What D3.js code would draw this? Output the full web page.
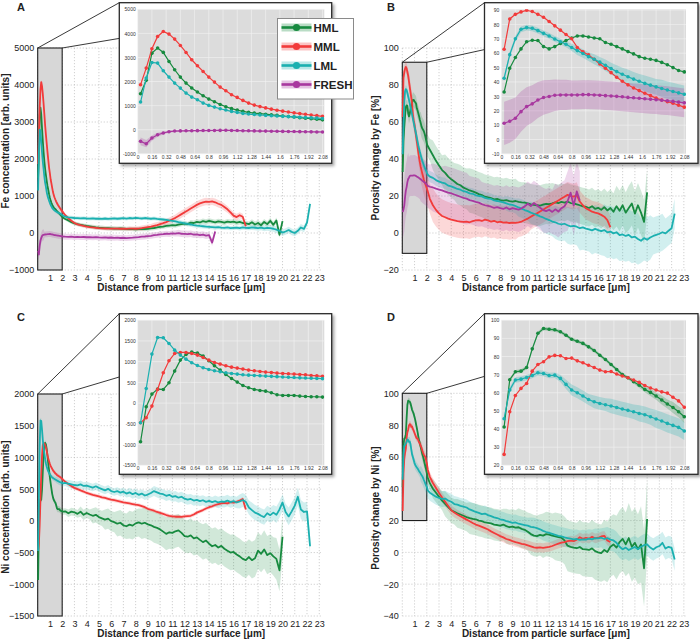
<!DOCTYPE html>
<html><head><meta charset="utf-8">
<script src="https://cdn.jsdelivr.net/npm/d3@7"></script>
<style>body{margin:0;background:#fff}svg{display:block}text{font-family:'Liberation Sans',Arial,Helvetica,sans-serif}</style>
</head><body><svg id="c" width="700" height="641"></svg>
<script>
// ---------------- DATA ----------------
const seriesNames = ["HML","MML","LML","FRESH"];
const xTicksMain = [1,2,3,4,5,6,7,8,9,10,11,12,13,14,15,16,17,18,19,20,21,22,23];
const xTicksInset = [0,0.16,0.32,0.48,0.64,0.8,0.96,1.12,1.28,1.44,1.6,1.76,1.92,2.08];
const feTicks = [-1000,0,1000,2000,3000,4000,5000];
const pFeTicks = [-20,0,20,40,60,80,100];
const niTicks = [-1500,-1000,-500,0,500,1000,1500,2000];
const pNiTicks = [-40,-20,0,20,40,60,80,100];
const feInTicks = [-1000,0,1000,2000,3000,4000,5000];
const pFeInTicks = [-10,0,10,20,30,40,50,60,70,80,90];
const niInTicks = [-1500,-1000,-500,0,500,1000,1500,2000];
const pNiInTicks = [20,30,40,50,60,70,80,90,100];

// distances (µm) of the zoomed samples and of the coarser far-field samples
const insetX = [0.032,0.096,0.16,0.224,0.288,0.352,0.416,0.48,0.544,0.608,0.672,0.736,0.8,0.864,0.928,0.992,1.056,1.12,1.184,1.248,1.312,1.376,1.44,1.504,1.568,1.632,1.696,1.76,1.824,1.888,1.952,2.016,2.08];
const tailX = [2.25,2.5,2.75,3,3.25,3.5,3.75,4,4.25,4.5,4.75,5,5.25,5.5,5.75,6,6.25,6.5,6.75,7,7.25,7.5,7.75,8,8.25,8.5,8.75,9,9.25,9.5,9.75,10,10.25,10.5,10.75,11,11.25,11.5,11.75,12,12.25,12.5,12.75,13,13.25,13.5,13.75,14,14.25,14.5,14.75,15,15.25,15.5,15.75,16,16.25,16.5,16.75,17,17.25,17.5,17.75,18,18.25,18.5,18.75,19,19.25,19.5,19.75,20,20.25,20.5,20.75,21,21.25,21.5,21.75,22,22.25];

// Panel A: Fe concentration
const feHML_in = [1494,2050,3180,3390,3210,2835,2490,2185,1936,1730,1563,1411,1272,1162,1050,955,875,815,765,722,688,665,645,620,595,570,548,525,500,478,455,432,410];
const feMML_in = [1867,2559,3361,3873,4080,3970,3762,3500,3209,2905,2656,2420,2185,1978,1770,1618,1452,1341,1217,1106,1023,960,905,855,810,770,735,700,670,640,610,585,555];
const feLML_in = [1148,2143,2794,2766,2448,2185,1936,1729,1521,1355,1245,1106,1010,940,871,816,761,719,678,650,630,612,595,580,567,555,543,532,520,508,495,482,468];
const feFRESH_in = [-484,-581,-346,-207,-138,-83,-55,-50,-45,-40,-38,-35,-33,-30,-28,-25,-30,-35,-40,-45,-50,-55,-58,-62,-66,-70,-73,-77,-80,-84,-88,-92,-95];
const feHML_tail = [380,340,295,262, 240,222,205,190, 178,165,152,145, 140,132,130,126, 120,118,122,115, 108,112,105,100, 104,110,108,115, 125,135,150,168, 175,190,200,210, 205,225,240,255, 240,280,270,300, 285,320,300,330, 310,290,315,300, 280,310,295,305, 280,300,270,260, 240,290,230,270, 210,300,240,330, 220,340,-50,320];
const feMML_tail = [480,400,330,270, 235,210,190,175, 160,150,140,130, 125,122,120,118, 116,118,115,117, 114,116,118,115, 120,130,145,160, 175,195,215,240, 265,295,330,370, 410,460,510,560, 610,660,710,760, 800,830,850,840, 855,830,790,760, 700,640,560,470, 430,480,440,180];
const feLML_tail = [440,425,415,405, 400,395,400,392, 388,395,385,390, 384,392,380,388, 395,385,392,400, 390,405,395,410, 400,392,405,395, 385,395,380,372, 365,355,340,330, 315,295,280,262, 245,230,212,200, 190,182,175,168, 160,150,158,145, 140,150,132,138, 145,130,150,140, 135,150,142,130, 145,125,140,130, 115,90,60,10, 40,80,30,0, 60,150,110,280, 790];
const feFRESH_tail = [-100,-105,-98,-110, -104,-112,-108,-115, -110,-118,-112,-120, -125,-118,-128,-122, -130,-125,-135,-128, -138,-130,-125,-118, -110,-100,-95,-85, -75,-60,-50,-38, -30,-20,-25,-10, -15,-5,-20,-25, -30,-20,-45,-40, -55,-45,-70,-60, -260,40];
const feHML_hw = [40,40,40,50,50,60,60,60,60,60,60,60,60,70,70,70,70,70,80,80,80];
const feMML_hw = [60,50,50,50,50,50,50,50,60,70,80,90,100,100,100,100,90,80];
const feLML_hw = [60,50,50,50,50,50,50,50,50,50,50,50,60,60,60,60,60,60,70,80,90,90,90,90];
const feFRESH_hw = [150,80,80,80,80,80,80,80,80,80,80,80,90,90,90];
const feFRESH_inHW = [160,150,110,80,60,45,35,30,30,30,30,30,30,30,30,30,30,30,30,30,30,30,30,30,30,30,30,30,30,30,30,30,30];

// Panel B: porosity change by Fe
const pFeHML_in = [33,49.5,57,63,68,69,68.8,64.6,63,64.6,66.7,68.8,70.6,72,72,71.3,70.6,70,67.4,66.2,64.6,63,61.1,59.5,57.6,56.5,55.8,55,53.6,52,50,48,47];
const pFeMML_in = [62.7,83.8,87,88.7,89.8,89,87,85,82,79,76,73,70,64,61,58.8,55.8,52.5,49.5,46.5,43.3,40.5,38,35.8,34,32.2,30.5,28.8,27.5,26.3,25.2,23.8,22.5];
const pFeLML_in = [42.6,59,70,76.6,77.8,77.3,75.7,73.8,72,69.9,68,66.2,64,61.8,59.8,57.6,55.8,53.8,51.6,49.4,47.2,45.4,43.6,42,40.5,39,37.8,36.6,35.5,34.4,33.4,32.4,31.5];
const pFeFRESH_in = [11.3,12.7,14.8,19.4,22.9,24.8,27.5,29.2,29.9,30.8,31,31,31,31,31.2,31.2,31,30.8,30.5,30.3,30,29.7,29.3,29,28.7,28.3,28,27.7,27.3,27,26.5,26,25.5];
const pFeHML_tail = [45,42,39,36.5, 34,32.5,30.5,29, 27.8,26.5,25.8,24.5, 23.8,23,22.5,21.8, 21,20.5,19.6,19.2, 18.8,18.2,18.4,17.8, 17.5,17.8,17.2,17, 17.3,16.8,16.5,16.4, 16,15.5,15.2,15, 14.8,15.3,15.8,15.6, 16,16.5,16.2,16.8, 16.4,17,16.2,16, 15.5,15,14.4,14.2, 13.5,14.5,13,13.6, 12.5,14,12.2,13.5, 11.5,14.5,12,15, 11,13.5,16,10.5, 15,11,6,22];
const pFeMML_tail = [18.5,15,12.5,10.6, 9.2,8.5,7.8,7.2, 6.8,6.4,6.2,6, 6.2,5.8,6.4,6.8, 7,6.5,7.2,6.8, 6.2,6.6,5.8,6.2, 5.6,5.8,5.4,5.6, 5.5,5.8,6.2,7, 7.8,8.8,9.8,10.6, 11.6,12.6,13.6,14.6, 15.6,16.6,17.6,18.6, 19.6,20.6,20,19.6, 20.5,17,15,13.3, 12.5,11.5,11,10.6, 9.8,8.8,7,3];
const pFeLML_tail = [30.5,29.8,28.6,27.8, 27.2,26.8,25.6,25.2, 24.5,23.8,23.4,22.6, 22.2,21.4,21.2,20.4, 20,19.8,19,18.6, 18.4,17.6,17.3,16.9, 16.5,16,15.4,15.2, 14.6,13.8,13.2,12.4, 11.8,11,10.4,9.8, 9,8.4,7.6,7, 6.2,5.8,5,4.6, 5,4.2,3.6,3.9, 3.4,2.6,3,2.4, 2,1.4,2.2,1.6, 1,1.6,0.4,0.8, -0.2,0.4,-1.2,-0.8, -1.6,-1,-2.4,-2, -3.2,-4.2,-2.8,-3.6, -2.4,-1.6,-1,-0.4, 0.4,-0.2,1.2,2.6, 10.5];
const pFeFRESH_tail = [25,24.6,24,23.5, 23,22.4,21.8,21.4, 20.8,20.2,19.6,19, 18.6,17.8,17.4,16.8, 16.4,15.6,15,14.6, 14.2,13.6,14,13.4, 13,13.8,12.8,13.4, 13,12.6,13.4,14.4, 15.8,14.6,16.2,15, 13.6,12.4,11.8,12.6, 11.4,12.8,11.6,13.4, 14.5,17.2,21.8,14.8, 22.5,17.5];
const pFeHML_hw = [3,4,6,8,10,11,12,12,12,12,11,11,11,10,10,10,10,10,11,12,12];
const pFeMML_hw = [3,5,8,9,9,9,9,9,9,9,8,7,7,7,7,6,6,6];
const pFeLML_hw = [2,3,3,3,3,3,3,3,3,4,5,6,8,9,10,12,13,14,14,14,12,10,8,8];
const pFeFRESH_hw = [14,11,12,13,14,14,13,12,12,12,12,12,12,14,16,16];
const pFeFRESH_inHW = [15,15,14.5,14,13.5,13,12.5,12,11.5,11,10.5,10.5,10,10,10,10,10,10,10,10,10,10,10,10,10,10,10,10,10,10,10,10,10];
const pFeLML_inHW = [2,2,2,2,2,2,2,2,2,2,2,2,2.5,3,3,3,3.5,3.5,4,4,4.5,4.5,5,5,5,5.5,5.5,5.5,6,6,6,6,6];

// Panel C: Ni concentration
const niHML_in = [-933,-88,217,338,330,490,772,1037,1174,1230,1206,1134,1021,900,796,691,595,507,426,370,330,306,289,249,201,185,185,185,169,161,153,153,145];
const niMML_in = [-474,-354,-72,330,732,1021,1198,1222,1222,1198,1158,1101,1037,981,941,900,868,844,820,796,780,764,748,740,724,716,708,700,691,683,667,659,645];
const niLML_in = [-474,354,1182,1584,1576,1439,1278,1158,1061,973,908,852,812,780,756,732,716,700,683,675,667,660,652,645,638,630,623,617,610,605,600,595,590];
const niHML_tail = [150,120,145,135, 110,145,95,125, 100,80,95,60, 40,20,35,-5, -20,-45,-30,-70, -85,-60,-75,-40, -25,-45,-30,-55, -70,-95,-110,-135, -170,-205,-180,-190, -165,-150,-190,-240, -250,-230,-275,-260, -300,-335,-310,-360, -400,-380,-420,-395, -440,-470,-500,-490, -530,-560,-600,-620, -570,-620,-590,-470, -520,-450,-540,-510, -560,-600,-780,-250];
const niMML_tail = [615,580,548,520, 500,480,462,440, 425,410,398,385, 372,362,348,335, 325,315,305,292, 285,276,265,255, 248,232,215,190, 175,160,140,125, 110,92,80,72, 65,68,62,70, 75,80,100,130, 150,170,195,215, 230,250,262,275, 285,275,295,288, 300,320,345,180];
const niLML_tail = [600,585,575,565, 560,575,550,555, 540,525,545,520, 500,480,505,470, 455,470,445,460, 430,450,420,440, 410,430,400,415, 440,470,450,430, 420,395,410,380, 390,365,380,350, 335,345,320,330, 310,325,300,315, 295,310,290,305, 300,320,295,310, 290,305,330,300, 210,170,130,110, 80,60,120,90, 130,95,180,290, 140,70,150,240, 380,180,140,150, -400];
const niHML_hw = [40,40,50,60,80,120,160,200,220,240,250,260,260,270,280,280,280,280,290,300,330];
const niMML_hw = [30,30,30,30,30,30,30,30,30,30,30,30,30,30,30,30,30,30];
const niLML_hw = [40,40,50,60,60,60,60,60,70,70,80,80,80,80,80,90,90,110,120,120,130,140,150,150];

// Panel D: porosity change by Ni
const pNiHML_in = [41.1,67.2,71.6,71.9,73.9,84.2,92.8,95.4,95,94.7,93.6,91.7,89.5,88.4,87.2,85.3,83.3,80.7,78.3,75.6,72.8,70.1,68.3,66.1,64.2,61.8,60.2,58.2,56,53.8,51.9,49.5,46.8];
const pNiMML_in = [26,49.5,58.5,62.4,65.1,71.9,75.6,77.1,79.8,80.6,80.4,78.9,79.1,77.6,76.5,75.2,73.9,72.5,71.6,71.7,70.3,69.2,68.3,67,65.7,64,62.6,61.5,60.5,59.8,57.5,55.5,52];
const pNiLML_in = [45.7,61.5,67,67.5,68.4,69.5,71,70.6,69.5,69.7,67.9,64.6,61.5,60,58.2,56.3,55,54.1,53.4,52.7,51.9,51,50.3,49.5,48.6,47.9,46.8,45.5,44.4,43.1,42,40.9,38.9];
const pNiHML_tail = [43.5,40,37.5,35, 32.5,30.5,28.5,26.5, 25.5,24.5,23.8,23, 22.2,21.5,21,20.8, 20,19.6,18.8,18.5, 18.2,17.5,17.2,16.8, 17.5,16.5,15.8,16.2, 15.5,15.8,14.8,14.2, 13,11.5,10.5,10.2, 11,10.5,11.5,11.2, 10.5,10,9.6,9.2, 7.5,4.2,3.5,3, 2.6,3.4,2,1.9, 1.5,2.5,0.8,0, -0.5,1.5,0.2,3.5, 5,3,6.5,8.5, 5,9,3.5,6, 2,5,-10,21];
const pNiMML_tail = [47.5,43.6,40.5,37.4, 34.5,31.8,29.2,26.5, 25,23.8,22.7,21.7, 20.6,19.6,18.5,17.5, 16.8,16,15.2,14.4, 13.2,12.2,11.2,10.2, 9.4,8.4,7.8,7.1, 6.5,6,5.4,5, 4.4,3.8,3.2,2.9, 3.1,2.8,3.2,3.4, 4,4.8,5.5,6.1, 6.5,7,7.4,7.1, 8,9.5,8.5,9.2, 8.6,9.8,8.8,9.2, 10,10.4,7.5,6.5];
const pNiLML_tail = [37.5,36.2,35,34.2, 33.6,33.8,32.6,31.8, 30.4,30,29.2,28.8, 28.2,27,26.2,25.4, 24.8,24,24.4,23.4, 22.8,22,21.6,20.8, 20.4,19.6,19.2,18.6, 18.8,18,17.6,17.2, 16.8,16,15.8,15.2, 14.5,13.5,12.8,12.2, 11.6,11,10.4,10, 9.4,9,8.6,8.2, 8.4,7.8,8.2,8, 8.6,8.2,9,8.8, 9.2,8.4,9,8, 7.5,6,3.5,2, 3,1.5,2.5,3.4, 2,3.5,4.5,5, 3,1.8,3.2,4, 6,2.4,3.5,2.8, -4.5];
const pNiHML_hw = [2,2,4,6,8,9,10,10,10,11,12,13,14,15,16,17,18,19,20,22,24];
const pNiMML_hw = [2,2,3,3,3,3,3,3,3,3,3,3,3,3,3,3,3,3];
const pNiLML_hw = [2,3,5,5,5,5,5,5,5,5,5,6,6,6,6,6,6,7,7,7,7,7,7,7];
const pNiLML_inHW = [1.5,1.5,1.5,1.5,1.5,1.5,1.5,1.5,1.5,1.5,2,2.5,3,3,3,3,3.5,3.5,3.5,4,4,4,4,4,4.5,4.5,4.5,5,5,5,5,5,5];
const pNiHML_inHW = [1,1,1,1,1,1,1,1,1,1,1,1,1,1,1,1,1,1,1,1,1,1,1,1,1.5,1.5,2,2,2.5,2.5,3,3,3.5];

// ---------------- STYLE / LAYOUT ----------------
const colors = {HML:"#178a3f", MML:"#f23b3b", LML:"#1bb0b0", FRESH:"#a8389f"};
const tickFmt = d => (d < 0 ? "\u2212" : "") + Math.abs(d);
const xTitle = "Distance from particle surface [\u03bcm]";

const panels = [
 {letter:"A", lpos:[17,11], ytitle:"Fe concentration [arb. units]", ytx:6, yty:141,
  main:{l:37.7,r:321.7,t:48,b:270}, yDomain:[-1000,5000], yTicks:feTicks, rect:[-1000,5000],
  inset:{box:[119.3,2.7,331.7,163.3], plot:[137.7,9.3,324.3,153.8], domain:[-1000,5000], ticks:feInTicks},
  series:[
   {n:"HML", ins:feHML_in, tail:feHML_tail, hw:feHML_hw},
   {n:"MML", ins:feMML_in, tail:feMML_tail, hw:feMML_hw},
   {n:"LML", ins:feLML_in, tail:feLML_tail, hw:feLML_hw},
   {n:"FRESH", ins:feFRESH_in, tail:feFRESH_tail, hw:feFRESH_hw, inHW:feFRESH_inHW}]},
 {letter:"B", lpos:[387,11], ytitle:"Porosity change by Fe [%]", ytx:376, yty:158,
  main:{l:402.3,r:686.3,t:48,b:270}, yDomain:[-20,100], yTicks:pFeTicks, rect:[-11,92.3],
  inset:{box:[484.5,2.7,698,163.3], plot:[501.3,9.3,686,153.8], domain:[-9.9,90.5], ticks:pFeInTicks},
  series:[
   {n:"HML", ins:pFeHML_in, tail:pFeHML_tail, hw:pFeHML_hw},
   {n:"MML", ins:pFeMML_in, tail:pFeMML_tail, hw:pFeMML_hw},
   {n:"LML", ins:pFeLML_in, tail:pFeLML_tail, hw:pFeLML_hw, inHW:pFeLML_inHW},
   {n:"FRESH", ins:pFeFRESH_in, tail:pFeFRESH_tail, hw:pFeFRESH_hw, inHW:pFeFRESH_inHW}]},
 {letter:"C", lpos:[17,321], ytitle:"Ni concentration [arb. units]", ytx:6, yty:507,
  main:{l:37.7,r:321.7,t:394,b:616}, yDomain:[-1500,2000], yTicks:niTicks, rect:[-1500,2000],
  inset:{box:[119.3,313.7,331.7,474.3], plot:[137.7,320.2,324.3,465.3], domain:[-1500,2000], ticks:niInTicks},
  series:[
   {n:"HML", ins:niHML_in, tail:niHML_tail, hw:niHML_hw},
   {n:"MML", ins:niMML_in, tail:niMML_tail, hw:niMML_hw},
   {n:"LML", ins:niLML_in, tail:niLML_tail, hw:niLML_hw}]},
 {letter:"D", lpos:[387,321], ytitle:"Porosity change by Ni [%]", ytx:376, yty:508,
  main:{l:402.3,r:686.3,t:393.3,b:616}, yDomain:[-40,100], yTicks:pNiTicks, rect:[20,100],
  inset:{box:[484.5,313.7,698,474.3], plot:[501.3,320.2,686,465.3], domain:[20,100], ticks:pNiInTicks},
  series:[
   {n:"HML", ins:pNiHML_in, tail:pNiHML_tail, hw:pNiHML_hw, inHW:pNiHML_inHW},
   {n:"MML", ins:pNiMML_in, tail:pNiMML_tail, hw:pNiMML_hw},
   {n:"LML", ins:pNiLML_in, tail:pNiLML_tail, hw:pNiLML_hw, inHW:pNiLML_inHW}]}
];

// ---------------- DRAW ----------------
const svg = d3.select("#c");
const defs = svg.append("defs");
const flt = defs.append("filter").attr("id","sh").attr("x","-10%").attr("y","-10%").attr("width","130%").attr("height","130%");
flt.append("feDropShadow").attr("dx",2).attr("dy",2.2).attr("stdDeviation",1.6).attr("flood-color","#000").attr("flood-opacity",0.35);

function fullPoints(s){
  const a = s.ins.map((v,i)=>({x:insetX[i], y:v}));
  const b = s.tail.map((v,i)=>({x:tailX[i], y:v}));
  return a.concat(b).map(d=>({x:d.x, y:d.y, hw:s.hw[Math.min(Math.round(d.x), s.hw.length-1)]}));
}

panels.forEach((p,pi)=>{
  const m = p.main;
  const x = d3.scaleLinear().domain([0,23.2]).range([m.l,m.r]);
  const y = d3.scaleLinear().domain(p.yDomain).range([m.b,m.t]);
  const g = svg.append("g");
  const grid = g.append("g").attr("stroke","#bcbcbc").attr("stroke-width",0.7).attr("stroke-dasharray","1.2,1.8");
  grid.selectAll("line.gv").data([0].concat(xTicksMain)).join("line").attr("class","gv")
    .attr("x1",d=>x(d)).attr("x2",d=>x(d)).attr("y1",m.t).attr("y2",m.b);
  grid.selectAll("line.gh").data(p.yTicks).join("line").attr("class","gh")
    .attr("x1",m.l).attr("x2",m.r).attr("y1",d=>y(d)).attr("y2",d=>y(d));
  // zoom region
  g.append("rect").attr("x",x(0)).attr("y",y(p.rect[1])).attr("width",x(2)-x(0))
    .attr("height",y(p.rect[0])-y(p.rect[1])).attr("fill","#d7d7d7").attr("stroke","#1e1e1e").attr("stroke-width",1.1);
  const area = d3.area().x(d=>x(d.x)).y0(d=>y(d.y-d.hw)).y1(d=>y(d.y+d.hw));
  const line = d3.line().x(d=>x(d.x)).y(d=>y(d.y));
  const data = p.series.map(s=>({s, pts:fullPoints(s)}));
  data.forEach(d=>g.append("path").attr("d",area(d.pts)).attr("fill",colors[d.s.n]).attr("fill-opacity",0.2));
  data.forEach(d=>g.append("path").attr("d",line(d.pts)).attr("fill","none").attr("stroke",colors[d.s.n]).attr("stroke-width",1.8).attr("stroke-linejoin","round"));
  // axes
  const ax = g.append("g").attr("transform",`translate(0,${m.b})`)
    .call(d3.axisBottom(x).tickValues(xTicksMain).tickSize(0).tickFormat(d3.format("d")));
  ax.select(".domain").remove();
  ax.selectAll("text").attr("y",10.5).attr("dy",0).attr("font-size",9).attr("fill","#222").attr("font-family","'Liberation Sans',Arial,sans-serif");
  const ay = g.append("g").attr("transform",`translate(${m.l},0)`)
    .call(d3.axisLeft(y).tickValues(p.yTicks).tickSize(0).tickFormat(tickFmt));
  ay.select(".domain").remove();
  ay.selectAll("text").attr("x",-3.5).attr("dy","0.33em").attr("font-size",9).attr("fill","#222").attr("font-family","'Liberation Sans',Arial,sans-serif");
  g.append("text").attr("x",(m.l+m.r)/2+1.5).attr("y",m.b+21).attr("text-anchor","middle")
    .attr("font-size",10).attr("font-weight","bold").attr("fill","#222").text(xTitle);
  g.append("text").attr("transform",`translate(${p.ytx},${p.yty}) rotate(-90)`).attr("text-anchor","middle")
    .attr("dominant-baseline","middle").attr("font-size",10).attr("font-weight","bold").attr("fill","#222").text(p.ytitle);
  g.append("text").attr("x",p.lpos[0]).attr("y",p.lpos[1]).attr("font-size",11).attr("font-weight","bold").attr("fill","#222").text(p.letter);

  // connectors
  const b = p.inset.box;
  g.append("line").attr("x1",x(0)).attr("y1",y(p.rect[1])).attr("x2",b[0]).attr("y2",b[1]).attr("stroke","#222").attr("stroke-width",0.9);
  g.append("line").attr("x1",x(2)).attr("y1",y(p.rect[1])).attr("x2",b[2]).attr("y2",b[1]).attr("stroke","#222").attr("stroke-width",0.9);

  // inset
  const ig = svg.append("g");
  ig.append("rect").attr("x",b[0]).attr("y",b[1]).attr("width",b[2]-b[0]).attr("height",b[3]-b[1])
    .attr("fill","#fff").attr("stroke","#2a2a2a").attr("stroke-width",1.3).attr("filter","url(#sh)");
  const pl = p.inset.plot;
  const xi = d3.scaleLinear().domain([0,2.1]).range([pl[0],pl[2]]);
  const yi = d3.scaleLinear().domain(p.inset.domain).range([pl[3],pl[1]]);
  ig.append("rect").attr("x",pl[0]).attr("y",pl[1]).attr("width",pl[2]-pl[0]).attr("height",pl[3]-pl[1]).attr("fill","#dcdcdc");
  const ig2 = ig.append("g").attr("stroke","#f4f4f4").attr("stroke-width",0.6);
  ig2.selectAll("line.v").data(xTicksInset).join("line").attr("class","v").attr("x1",d=>xi(d)).attr("x2",d=>xi(d)).attr("y1",pl[1]).attr("y2",pl[3]);
  ig2.selectAll("line.h").data(p.inset.ticks).join("line").attr("class","h").attr("x1",pl[0]).attr("x2",pl[2]).attr("y1",d=>yi(d)).attr("y2",d=>yi(d));
  const cid = "clip"+pi;
  defs.append("clipPath").attr("id",cid).append("rect").attr("x",pl[0]).attr("y",pl[1]).attr("width",pl[2]-pl[0]).attr("height",pl[3]-pl[1]);
  const dg = ig.append("g").attr("clip-path",`url(#${cid})`);
  const iarea = d3.area().x(d=>xi(d.x)).y0(d=>yi(d.y-d.hw)).y1(d=>yi(d.y+d.hw));
  const iline = d3.line().x(d=>xi(d.x)).y(d=>yi(d.y));
  p.series.forEach(s=>{
    if(!s.inHW) return;
    const pts = s.ins.map((v,i)=>({x:insetX[i], y:v, hw:s.inHW[i]}));
    dg.append("path").attr("d",iarea(pts)).attr("fill",colors[s.n]).attr("fill-opacity",0.25);
  });
  p.series.forEach(s=>{
    const pts = s.ins.map((v,i)=>({x:insetX[i], y:v}));
    dg.append("path").attr("d",iline(pts)).attr("fill","none").attr("stroke",colors[s.n]).attr("stroke-width",1.2);
    dg.selectAll(null).data(pts).join("circle").attr("cx",d=>xi(d.x)).attr("cy",d=>yi(d.y)).attr("r",1.8).attr("fill",colors[s.n]);
  });
  const iax = ig.append("g").attr("transform",`translate(0,${pl[3]})`)
    .call(d3.axisBottom(xi).tickValues(xTicksInset).tickSize(0).tickFormat(d=>String(d)));
  iax.select(".domain").remove();
  iax.selectAll("text").attr("y",5).attr("dy",0).attr("font-size",5).attr("fill","#333").attr("font-family","'Liberation Sans',Arial,sans-serif");
  const iay = ig.append("g").attr("transform",`translate(${pl[0]},0)`)
    .call(d3.axisLeft(yi).tickValues(p.inset.ticks).tickSize(0).tickFormat(d=>(d<0?"-":"")+Math.abs(d)));
  iay.select(".domain").remove();
  iay.selectAll("text").attr("x",-2).attr("dy","0.33em").attr("font-size",5).attr("fill","#333").attr("font-family","'Liberation Sans',Arial,sans-serif");
});

// legend (panel A)
const lg = svg.append("g");
lg.append("rect").attr("x",277.5).attr("y",18.5).attr("width",76).attr("height",80.5).attr("fill","#fff").attr("stroke","#8a8a8a").attr("stroke-width",1);
seriesNames.forEach((n,i)=>{
  const cy = 27.5 + i*19;
  lg.append("rect").attr("x",281.5).attr("y",cy-4).attr("width",30).attr("height",8).attr("fill",colors[n]).attr("fill-opacity",0.3);
  lg.append("line").attr("x1",281.5).attr("x2",311.5).attr("y1",cy).attr("y2",cy).attr("stroke",colors[n]).attr("stroke-width",2.6);
  lg.append("circle").attr("cx",296.5).attr("cy",cy).attr("r",3.6).attr("fill",colors[n]);
  lg.append("text").attr("x",313.5).attr("y",cy+4.2).attr("font-size",11.5).attr("font-weight","bold").attr("fill","#222").text(n);
});
</script></body></html>
